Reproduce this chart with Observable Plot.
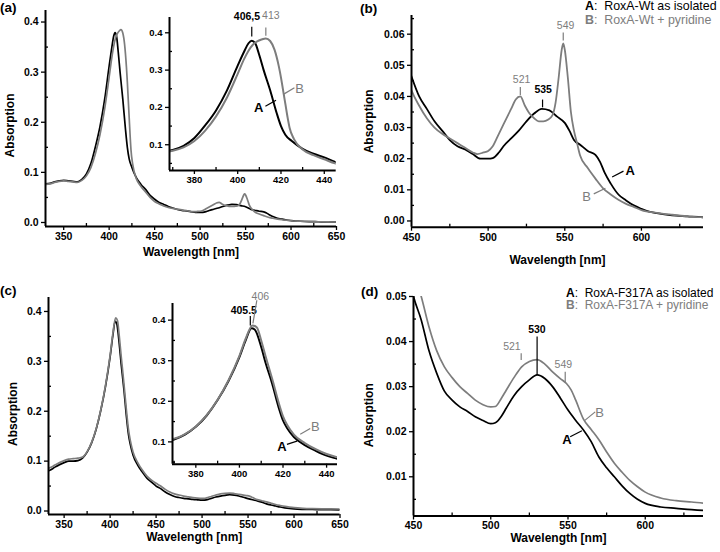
<!DOCTYPE html>
<html><head><meta charset="utf-8">
<script src="https://cdn.jsdelivr.net/npm/d3@7"></script>
<script src="https://cdn.jsdelivr.net/npm/@observablehq/plot@0.6"></script>
<style>
body{margin:0;background:#fff;}
#fig{position:relative;width:720px;height:552px;overflow:hidden;background:#fff;font-family:'Liberation Sans',Arial,sans-serif;color:#000;}
#fig svg{position:absolute;overflow:visible;background:transparent;}
.lab{position:absolute;white-space:nowrap;line-height:1;}
</style></head><body><div id="fig"></div>
<script>
// ---------------- data ----------------
// RoxA-Wt as isolated (A)
const wtA_nm = [330,335,340,345,350,355,360,365,370,375,380,385,390,395,400,403,405,406.5,408,410,412,415,418,420,422,425,430,435,440,445,450,455,460,465,470,475,480,485,490,495,500,503,507,510,515,520,525,530,535,540,545,550,553,556,560,565,570,573,576,580,585,590,595,600,605,610,620,630,640,650];
const wtA_abs = [0.077,0.078,0.081,0.083,0.084,0.083,0.082,0.081,0.086,0.097,0.118,0.152,0.192,0.245,0.312,0.350,0.372,0.379,0.373,0.340,0.300,0.246,0.185,0.150,0.127,0.110,0.089,0.076,0.066,0.054,0.0464,0.040,0.036,0.032,0.029,0.026,0.024,0.023,0.0215,0.020,0.020,0.0202,0.022,0.024,0.0265,0.029,0.032,0.0345,0.036,0.0355,0.0335,0.0315,0.029,0.026,0.0245,0.0225,0.0212,0.019,0.0155,0.012,0.0085,0.0066,0.005,0.0039,0.003,0.0025,0.0018,0.0015,0.0012,0.001];
// RoxA-Wt + pyridine (B)
const wtB_nm = [330,335,340,345,350,355,360,365,370,375,380,385,390,395,400,403,405,407,409,411,413,415,417,419,420,421,422,423,424,426,430,435,440,445,450,455,460,465,470,475,480,485,490,493,497,500,503,507,510,515,518,521,524,527,530,533,536,539,542,544,546,548,549,550,552,554,556,558,560,565,570,575,580,585,590,595,600,610,620,630,640,650];
const wtB_abs = [0.076,0.077,0.080,0.082,0.083,0.082,0.081,0.080,0.084,0.093,0.110,0.138,0.176,0.226,0.290,0.330,0.352,0.368,0.377,0.382,0.385,0.378,0.355,0.310,0.280,0.245,0.210,0.175,0.145,0.115,0.087,0.072,0.061,0.050,0.042,0.037,0.033,0.030,0.028,0.0265,0.025,0.0235,0.022,0.0215,0.022,0.0225,0.024,0.028,0.031,0.036,0.039,0.040,0.037,0.0345,0.033,0.032,0.032,0.0325,0.034,0.038,0.046,0.055,0.057,0.055,0.046,0.035,0.029,0.025,0.021,0.017,0.0136,0.0105,0.0085,0.0068,0.0055,0.0045,0.0035,0.0026,0.002,0.0015,0.0012,0.001];
// RoxA-F317A as isolated (A)
const mutA_nm = [330,335,340,345,350,355,360,365,370,375,380,385,390,395,400,403,405.5,407,410,412,415,418,420,422,425,430,435,440,445,450,455,460,465,470,475,480,485,490,495,500,503,507,510,515,520,525,530,535,540,545,550,555,560,565,570,575,580,585,590,595,600,610,620,630,640,650];
const mutA_abs = [0.078,0.082,0.088,0.093,0.097,0.100,0.100,0.101,0.106,0.118,0.137,0.165,0.203,0.250,0.309,0.352,0.380,0.377,0.334,0.295,0.244,0.185,0.153,0.133,0.112,0.092,0.078,0.066,0.058,0.050,0.0448,0.038,0.033,0.029,0.027,0.0255,0.0245,0.0233,0.0225,0.0218,0.022,0.0235,0.0252,0.028,0.030,0.0315,0.0326,0.0318,0.030,0.0275,0.0248,0.0225,0.0204,0.0178,0.0144,0.012,0.010,0.008,0.0063,0.005,0.0041,0.0033,0.003,0.0027,0.0025,0.0024];
// RoxA-F317A + pyridine (B)
const mutB_nm = [330,335,340,345,350,355,360,365,370,375,380,385,390,395,400,403,406,408,410,412,415,418,420,422,425,430,435,440,445,450,455,460,465,470,475,480,485,490,495,500,503,507,510,515,520,525,530,535,540,545,549,552,555,560,565,570,575,580,585,590,595,600,610,620,630,640,650];
const mutB_abs = [0.083,0.087,0.092,0.097,0.101,0.104,0.105,0.106,0.108,0.119,0.138,0.166,0.204,0.252,0.312,0.356,0.387,0.382,0.350,0.311,0.256,0.197,0.163,0.141,0.118,0.097,0.082,0.070,0.062,0.0555,0.050,0.0433,0.038,0.0344,0.032,0.030,0.0285,0.027,0.026,0.0255,0.0256,0.0275,0.0292,0.032,0.0344,0.0356,0.036,0.035,0.0333,0.0318,0.0307,0.0293,0.027,0.0228,0.0205,0.0182,0.0155,0.013,0.011,0.0092,0.0078,0.0066,0.0053,0.0047,0.0044,0.0041,0.004];

// tick values
const fullXTicks = [350,400,450,500,550,600,650];
const fullXMinor = [375,425,475,525,575,625];
const fullYTicks = [0,0.1,0.2,0.3,0.4];
const fullYMinor = [0.05,0.15,0.25,0.35];
const insetXTicks = [380,400,420,440];
const insetXMinor = [370,390,410,430];
const insetYTicks = [0.1,0.2,0.3,0.4];
const insetYMinor = [0.05,0.15,0.25,0.35];
const visXTicks = [450,500,550,600];
const visXMinor = [475,525,575,625];
const wtYTicks = [0,0.01,0.02,0.03,0.04,0.05,0.06];
const wtYMinor = [0.005,0.015,0.025,0.035,0.045,0.055,0.065];
const mutYTicks = [0.01,0.02,0.03,0.04,0.05];
const mutYMinor = [0.005,0.015,0.025,0.035,0.045];

// annotations (data units): peak labels and their ticks, curve labels and leaders
const insetAPeaks = [{t:"406,5",s:"A",x:404.3,y:0.443,x1:406.5,y1:0.39,x2:406.5,y2:0.416},{t:"413",s:"B",x:415.3,y:0.445,x1:413,y1:0.392,x2:413,y2:0.414}];
const insetACurves = [{t:"A",s:"A",x:409.7,y:0.199,x1:412.8,y1:0.203,x2:417.7,y2:0.219},{t:"B",s:"B",x:428.6,y:0.25,x1:421.1,y1:0.235,x2:426.2,y2:0.253}];
const wtPeaks = [{t:"549",s:"B",x:550.5,y:0.0628,x1:549,y1:0.058,x2:549,y2:0.0605},{t:"521",s:"B",x:521.8,y:0.0453,x1:521,y1:0.0405,x2:521,y2:0.043},{t:"535",s:"A",x:535.9,y:0.0421,x1:535.5,y1:0.0365,x2:535.5,y2:0.039}];
const wtCurves = [{t:"A",s:"A",x:592.6,y:0.016,x1:580.9,y1:0.0141,x2:588.3,y2:0.016},{t:"B",s:"B",x:564.2,y:0.0079,x1:568.9,y1:0.0087,x2:576.5,y2:0.0105}];
const insetCPeaks = [{t:"405.5",s:"A",x:402,y:0.4227,x1:405,y1:0.387,x2:405,y2:0.41},{t:"406",s:"B",x:409.6,y:0.457,x1:408,y1:0.449,x2:406.2,y2:0.392}];
const insetCCurves = [{t:"B",s:"B",x:434.8,y:0.137,x1:427.9,y1:0.119,x2:432.5,y2:0.133},{t:"A",s:"A",x:419.5,y:0.0877,x1:421.8,y1:0.094,x2:426.4,y2:0.102}];
const mutPeaks = [{t:"530",s:"A",x:529.9,y:0.0426,x1:530,y1:0.0326,x2:530,y2:0.0411},{t:"521",s:"B",x:513.7,y:0.0389,x1:519.7,y1:0.0359,x2:519.7,y2:0.0374},{t:"549",s:"B",x:547,y:0.0348,x1:548.2,y1:0.0309,x2:548.2,y2:0.0333}];
const mutCurves = [{t:"B",s:"B",x:570.4,y:0.0241,x1:560.5,y1:0.0224,x2:567.6,y2:0.0244},{t:"A",s:"A",x:549.3,y:0.0182,x1:551.4,y1:0.0189,x2:559,y2:0.0202}];

const wtLegend = [["A","RoxA-Wt as isolated"],["B","RoxA-Wt + pyridine"]];
const mutLegend = [["A","RoxA-F317A as isolated"],["B","RoxA-F317A + pyridine"]];

// ---------------- drawing ----------------
const FONT = "'Liberation Sans', Arial, Helvetica, sans-serif";
const BLACK = "#000", GRAY = "#7d7d7d";
const colorOf = s => s === "A" ? BLACK : GRAY;
const pts = (nm, ab) => nm.map((x, i) => ({nm: x, abs: ab[i]}));
const fig = document.getElementById("fig");

function panel(o) {
  const [x0, y0, x1, y1] = o.box;
  const mL = 60, mR = 30, mT = 35, mB = 45;
  const marks = [];
  for (const s of o.series) {
    marks.push(Plot.line(s.data, {x: "nm", y: "abs", stroke: s.color, strokeWidth: o.lw, curve: "monotone-x", clip: true}));
  }
  marks.push(Plot.ruleY([o.yDomain[0]], {stroke: BLACK, strokeWidth: 2}));
  marks.push(Plot.ruleX([o.xDomain[0]], {stroke: BLACK, strokeWidth: 2}));
  marks.push(Plot.axisX({ticks: o.xTicks, label: null, tickSize: 4, tickPadding: 2, tickFormat: d => String(d), strokeWidth: 1.3, fontSize: o.fs, fontWeight: "bold"}));
  marks.push(Plot.axisX({ticks: o.xMinor, label: null, tickSize: -3, tickFormat: () => "", strokeWidth: 1.3}));
  marks.push(Plot.axisY({ticks: o.yTicks, label: null, tickSize: 4, tickPadding: 3, tickFormat: d3.format(o.yFmt), strokeWidth: 1.3, fontSize: o.fs, fontWeight: "bold"}));
  marks.push(Plot.axisY({ticks: o.yMinor, label: null, tickSize: -3, tickFormat: () => "", strokeWidth: 1.3}));
  for (const n of (o.notes || [])) {
    const c = colorOf(n.s);
    marks.push(Plot.link([n], {x1: "x1", y1: "y1", x2: "x2", y2: "y2", stroke: c, strokeWidth: 1.2}));
    marks.push(Plot.text([n], {x: "x", y: "y", text: "t", fill: c, fontSize: n.t.length > 1 ? o.noteFs : o.curveFs,
      fontWeight: n.s === "A" ? "bold" : "normal"}));
  }
  if (o.xTitle) {
    marks.push(Plot.text([o.xTitle], {text: d => d, frameAnchor: "bottom", lineAnchor: "middle", textAnchor: "middle", dy: o.xTitleDy, fontSize: 12, fontWeight: "bold", fill: BLACK}));
    marks.push(Plot.text([o.yTitle], {text: d => d, frameAnchor: "left", lineAnchor: "middle", textAnchor: "middle", dx: o.yTitleDx, dy: o.yTitleDy, rotate: -90, fontSize: 12, fontWeight: "bold", fill: BLACK}));
  }
  const svg = Plot.plot({
    width: (x1 - x0) + mL + mR,
    height: (y1 - y0) + mT + mB,
    marginLeft: mL, marginRight: mR, marginTop: mT, marginBottom: mB,
    x: {domain: o.xDomain, label: null},
    y: {domain: o.yDomain, label: null},
    style: {fontFamily: FONT, fontSize: "10.5px", fontWeight: "bold", color: BLACK, background: "transparent", overflow: "visible"},
    marks
  });
  svg.style.left = (x0 - mL) + "px";
  svg.style.top = (y0 - mT) + "px";
  fig.appendChild(svg);
}

const wtA = pts(wtA_nm, wtA_abs), wtB = pts(wtB_nm, wtB_abs);
const mutA = pts(mutA_nm, mutA_abs), mutB = pts(mutB_nm, mutB_abs);

// (a) main
panel({box: [44.5, 10, 335.5, 226], xDomain: [330, 650], yDomain: [-0.008, 0.423],
  xTicks: fullXTicks, xMinor: fullXMinor, yTicks: fullYTicks, yMinor: fullYMinor, yFmt: ".1f",
  series: [{data: wtA, color: BLACK}, {data: wtB, color: GRAY}], lw: 1.7, fs: 10.5,
  xTitle: "Wavelength [nm]", yTitle: "Absorption", xTitleDy: 26, yTitleDx: -35.5, yTitleDy: 7});
// (a) inset
panel({box: [169, 17, 335.7, 170], xDomain: [368.5, 445.5], yDomain: [0.031, 0.441],
  xTicks: insetXTicks, xMinor: insetXMinor, yTicks: insetYTicks, yMinor: insetYMinor, yFmt: ".1f",
  series: [{data: wtA, color: BLACK}, {data: wtB, color: GRAY}], lw: 2, fs: 9.5,
  notes: [...insetAPeaks, ...insetACurves], noteFs: 10.5, curveFs: 13});
// (b)
panel({box: [411, 15, 703, 226.7], xDomain: [450, 640.5], yDomain: [-0.002, 0.066],
  xTicks: visXTicks, xMinor: visXMinor, yTicks: wtYTicks, yMinor: wtYMinor, yFmt: ".2f",
  series: [{data: wtA, color: BLACK}, {data: wtB, color: GRAY}], lw: 1.8, fs: 10.5,
  notes: [...wtPeaks, ...wtCurves], noteFs: 10.5, curveFs: 13,
  xTitle: "Wavelength [nm]", yTitle: "Absorption", xTitleDy: 33, yTitleDx: -42, yTitleDy: 0});
// (c) main
panel({box: [47.5, 297, 339, 514], xDomain: [333, 650], yDomain: [-0.007, 0.428],
  xTicks: fullXTicks, xMinor: fullXMinor, yTicks: fullYTicks, yMinor: fullYMinor, yFmt: ".1f",
  series: [{data: mutA, color: BLACK}, {data: mutB, color: GRAY}], lw: 1.7, fs: 10.5,
  xTitle: "Wavelength [nm]", yTitle: "Absorption", xTitleDy: 23, yTitleDx: -35, yTitleDy: 8});
// (c) inset
panel({box: [172.3, 303.3, 337.3, 464], xDomain: [369.3, 445], yDomain: [0.045, 0.441],
  xTicks: insetXTicks, xMinor: insetXMinor, yTicks: insetYTicks, yMinor: insetYMinor, yFmt: ".1f",
  series: [{data: mutA, color: BLACK}, {data: mutB, color: GRAY}], lw: 2, fs: 9.5,
  notes: [...insetCPeaks, ...insetCCurves], noteFs: 10.5, curveFs: 13});
// (d)
panel({box: [413.3, 295.5, 703.3, 515], xDomain: [450, 637.7], yDomain: [0.0013, 0.05],
  xTicks: visXTicks, xMinor: visXMinor, yTicks: mutYTicks, yMinor: mutYMinor, yFmt: ".2f",
  series: [{data: mutA, color: BLACK}, {data: mutB, color: GRAY}], lw: 1.7, fs: 10.5,
  notes: [...mutPeaks, ...mutCurves], noteFs: 10.5, curveFs: 13,
  xTitle: "Wavelength [nm]", yTitle: "Absorption", xTitleDy: 22, yTitleDx: -44.3, yTitleDy: 9});

// panel letters and legends (HTML text)
function label(text, left, top, css) {
  const d = document.createElement("div");
  d.className = "lab";
  d.style.left = left + "px"; d.style.top = top + "px";
  Object.assign(d.style, css || {});
  d.innerHTML = text;
  fig.appendChild(d);
}
const panelTag = {fontSize: "13.5px", fontWeight: "bold"};
label("(a)", 0, 1, panelTag);
label("(b)", 360, 2, panelTag);
label("(c)", 0, 284, panelTag);
label("(d)", 361, 285, panelTag);
wtLegend.forEach(([k, txt], i) => label(`<b>${k}</b>:&nbsp; ${txt}`, 585, 0 + i * 14, {fontSize: "12.4px", color: colorOf(k)}));
mutLegend.forEach(([k, txt], i) => label(`<b>${k}</b>:&nbsp; ${txt}`, 566, 286.5 + i * 12.8, {fontSize: "12px", color: colorOf(k)}));
</script></body></html>
